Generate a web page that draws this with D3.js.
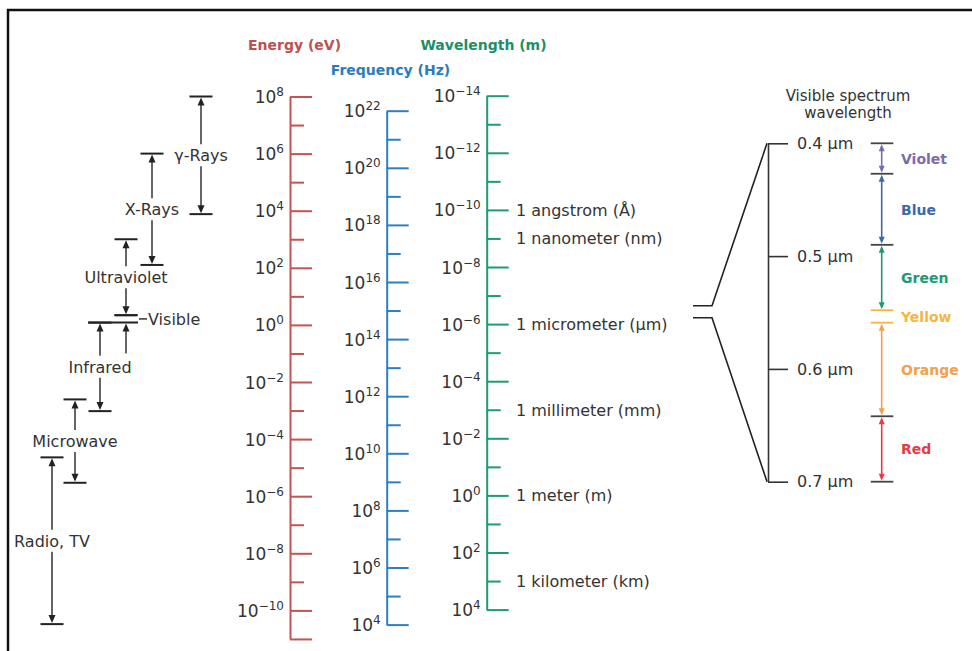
<!DOCTYPE html>
<html>
<head>
<meta charset="utf-8">
<script src="https://cdn.jsdelivr.net/npm/d3@7"></script>
<style>
  body { margin: 0; background: #fff; }
  text { font-family: "DejaVu Sans", sans-serif; }
</style>
</head>
<body>
<script>
// ---- data ----
// decade exponents shown on each log axis
const energyExps = d3.range(-11, 9);      // 10^-11 .. 10^8 eV
const freqExps = d3.range(4, 23);         // 10^4 .. 10^22 Hz
const waveExps = d3.range(-14, 5);        // 10^-14 .. 10^4 m

// named lengths marked on the wavelength axis
const unitNames = ["1 angstrom (Å)", "1 nanometer (nm)", "1 micrometer (μm)",
  "1 millimeter (mm)", "1 meter (m)", "1 kilometer (km)"];
const unitValues = [1e-10, 1e-9, 1e-6, 1e-3, 1, 1e3];

// spectral bands, as log10 of energy (eV) at the high and low ends
const bandNames = ["γ-Rays", "X-Rays", "Ultraviolet", "Visible", "Infrared", "Microwave", "Radio, TV"];
const bandHigh = [8, 6, 3, 0.34, 0.08, -2.61, -4.64];
const bandLow = [3.88, 2.1, 0.34, 0.08, -3.02, -5.53, -10.48];

// visible spectrum (μm)
const visTicks = [0.4, 0.5, 0.6, 0.7];
const colorNames = ["Violet", "Blue", "Green", "Yellow", "Orange", "Red"];
const colorBounds = [0.4, 0.427, 0.49, 0.548, 0.559, 0.642, 0.7];

// ---- layout / styles ----
const W = 972, H = 651;
const decade = 28.55;
const RED = "#c65353", BLUE = "#2e7fc1", GREEN = "#1f9a73", INK = "#333";
const bandX = [201, 152, 126, 126, 100, 75, 52];
const colorFill = ["#7d6aae", "#3b68ae", "#1e9a73", "#f6b53f", "#f4a04a", "#e63b45"];

const svg = d3.select("body").append("svg").attr("width", W).attr("height", H);

// frame
svg.append("path").attr("d", `M8,${H}V10H${W}`)
  .attr("fill", "none").attr("stroke", "#111").attr("stroke-width", 2.5);

const eScale = d3.scaleLog().domain([1e8, 1e-11]).range([96.5, 96.5 + 19 * decade]);
const fScale = d3.scaleLog().domain([1e22, 1e4]).range([110.7, 110.7 + 18 * decade]);
const wScale = d3.scaleLog().domain([1e-14, 1e4]).range([95.7, 95.7 + 18 * decade]);

const expOf = (d) => Math.round(Math.log10(d));

function logAxis(scale, x, exps, color, isLong) {
  const axis = d3.axisRight(scale)
    .tickValues(exps.map((e) => Math.pow(10, e)))
    .tickSize(22).tickSizeOuter(0).tickFormat("");
  const g = svg.append("g").attr("transform", `translate(${x},0)`).call(axis);
  g.attr("font-family", null).attr("font-size", null);
  g.select(".domain").attr("stroke", color).attr("stroke-width", 2);
  g.selectAll(".tick line").attr("stroke", color).attr("stroke-width", 2)
    .attr("x2", (d) => (isLong(expOf(d)) ? 22 : 14));
  g.selectAll(".tick text")
    .attr("text-anchor", "end").attr("x", -6).attr("dy", null).attr("y", 6)
    .attr("fill", INK).attr("font-size", 17)
    .each(function (d) {
      const e = expOf(d);
      if (e % 2 !== 0) return;
      const t = d3.select(this);
      t.append("tspan").text("10");
      t.append("tspan").attr("dy", -7).attr("font-size", 12)
        .text(e < 0 ? "−" + -e : String(e));
    });
  return g;
}

logAxis(eScale, 290, energyExps, RED, (e) => e % 2 === 0 || e === -11);
logAxis(fScale, 386.7, freqExps, BLUE, (e) => e % 2 === 0);
logAxis(wScale, 486.7, waveExps, GREEN, (e) => e % 2 === 0);

// axis titles
const titles = [
  { t: "Energy (eV)", x: 294.5, y: 50, c: "#c0504d" },
  { t: "Frequency (Hz)", x: 390.5, y: 75, c: "#2c7bbf" },
  { t: "Wavelength (m)", x: 483.5, y: 50, c: "#1c8f68" }
];
svg.selectAll("text.title").data(titles).enter().append("text")
  .attr("class", "title")
  .attr("x", (d) => d.x).attr("y", (d) => d.y)
  .attr("text-anchor", "middle").attr("font-size", 14).attr("font-weight", "bold")
  .attr("fill", (d) => d.c).text((d) => d.t);

// wavelength unit labels
svg.selectAll("text.unit").data(unitValues).enter().append("text")
  .attr("class", "unit")
  .attr("x", 516).attr("y", (d) => wScale(d) + 6)
  .attr("font-size", 16).attr("fill", INK)
  .text((d, i) => unitNames[i]);

// ---- band arrows ----
function head(g, x, y, dir, color, w = 3.5, len = 8) {
  // dir -1: tip points up at y; +1: tip points down at y
  g.append("path")
    .attr("d", `M${x},${y}L${x - w},${y - dir * len}L${x + w},${y - dir * len}Z`)
    .attr("fill", color);
}
function hline(g, x1, x2, y, color, wdt = 2) {
  g.append("line").attr("x1", x1).attr("x2", x2).attr("y1", y).attr("y2", y)
    .attr("stroke", color).attr("stroke-width", wdt);
}
function vline(g, x, y1, y2, color, wdt = 2) {
  g.append("line").attr("x1", x).attr("x2", x).attr("y1", y1).attr("y2", y2)
    .attr("stroke", color).attr("stroke-width", wdt);
}

const bandsG = svg.append("g");
bandNames.forEach((name, i) => {
  const x = bandX[i];
  const yTop = eScale(Math.pow(10, bandHigh[i]));
  const yBot = eScale(Math.pow(10, bandLow[i]));
  if (name === "Visible") {
    hline(bandsG, x - 11.5, x + 11.5, yTop, "#222");
    hline(bandsG, 88, x + 12, yBot, "#222");
    vline(bandsG, x, yBot + 5, yBot + 31, "#666");
    head(bandsG, x, yBot + 1, -1, "#222");
    const ym = (yTop + yBot) / 2;
    hline(bandsG, x + 13, x + 21, ym, "#333", 1.5);
    bandsG.append("text").attr("x", x + 22).attr("y", ym + 6)
      .attr("font-size", 16).attr("fill", INK).text(name);
    return;
  }
  const mid = (yTop + yBot) / 2;
  hline(bandsG, x - 11.5, x + 11.5, yTop, "#222");
  hline(bandsG, x - 11.5, x + 11.5, yBot, "#222");
  vline(bandsG, x, yTop + 5, mid - 11, "#666");
  vline(bandsG, x, mid + 11, yBot - 5, "#666");
  head(bandsG, x, yTop + 1, -1, "#222");
  head(bandsG, x, yBot - 1, 1, "#222");
  bandsG.append("text").attr("x", x).attr("y", mid + 6)
    .attr("text-anchor", "middle").attr("font-size", 16).attr("fill", INK).text(name);
});

// ---- visible spectrum ----
const vScale = d3.scaleLinear().domain([0.4, 0.7]).range([143.3, 481.7]);
const vx = 768;
const vAxis = d3.axisRight(vScale).tickValues(visTicks)
  .tickSize(20).tickSizeOuter(0).tickPadding(9)
  .tickFormat((d) => d.toFixed(1) + " μm");
const vg = svg.append("g").attr("transform", `translate(${vx},0)`).call(vAxis);
vg.attr("font-family", null).attr("font-size", null);
vg.select(".domain").attr("stroke", "#333").attr("stroke-width", 1.6);
vg.selectAll(".tick line").attr("stroke", "#333").attr("stroke-width", 1.6);
vg.selectAll(".tick text").attr("fill", INK).attr("font-size", 16);

// bracket linking the visible range to the main chart
svg.append("path")
  .attr("d", `M693,305.7H712L${vx - 1},${vScale(0.4)}M693,317.7H712L${vx - 1},${vScale(0.7)}`)
  .attr("fill", "none").attr("stroke", "#222").attr("stroke-width", 1.6);

svg.append("text").attr("x", 848).attr("y", 101).attr("text-anchor", "middle")
  .attr("font-size", 15).attr("fill", INK).text("Visible spectrum");
svg.append("text").attr("x", 848).attr("y", 118).attr("text-anchor", "middle")
  .attr("font-size", 15).attr("fill", INK).text("wavelength");

const sx = 881.7;
const specG = svg.append("g");
colorNames.forEach((name, i) => {
  const y1 = vScale(colorBounds[i]);
  const y2 = vScale(colorBounds[i + 1]);
  const c = colorFill[i];
  if (name !== "Yellow") {
    vline(specG, sx, y1 + 4, y2 - 4, c, 1.6);
    head(specG, sx, y1 + 1, -1, c, 3, 7);
    head(specG, sx, y2 - 1, 1, c, 3, 7);
  }
  specG.append("text").attr("x", 901).attr("y", (y1 + y2) / 2 + 5.5)
    .attr("font-size", 14).attr("font-weight", "bold").attr("fill", c).text(name);
});
colorBounds.forEach((b, i) => {
  const yellow = colorNames[i] === "Yellow" || colorNames[i - 1] === "Yellow";
  hline(specG, 870.7, 893.3, vScale(b), yellow ? colorFill[3] : "#444", 1.8);
});
</script>
</body>
</html>
